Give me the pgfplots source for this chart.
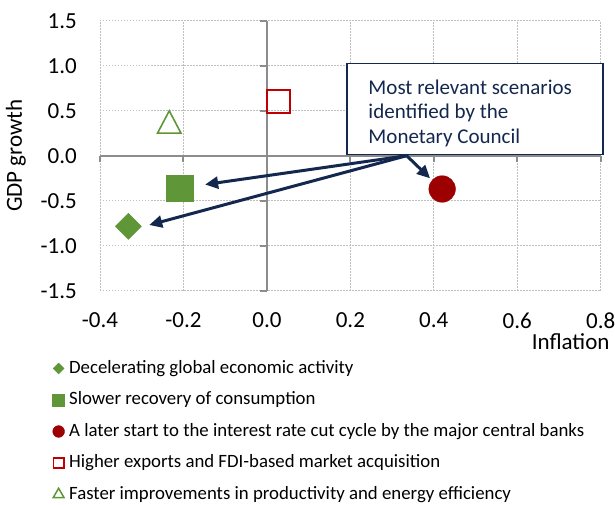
\documentclass[border=0pt]{standalone}
\usepackage{fontspec}
\setmainfont{Carlito}
\usepackage{pgfplots}
\pgfplotsset{compat=1.18}
\usetikzlibrary{arrows.meta}

\definecolor{mgreen}{HTML}{5F9637}
\definecolor{mdred}{HTML}{9C0000}
\definecolor{mred}{HTML}{C00000}
\definecolor{navy}{HTML}{14284F}
\definecolor{axgray}{HTML}{8C8C8C}
\definecolor{gridgray}{HTML}{BFBFBF}

\begin{document}
\begin{tikzpicture}
\useasboundingbox (-100pt,-213.3pt) rectangle (515pt,290.7pt);
\begin{axis}[
  at={(0,0)}, anchor=south west,
  scale only axis, width=500.7pt, height=270pt,
  xmin=-0.4, xmax=0.8, ymin=-1.5, ymax=1.5,
  xtick={-0.4,-0.2,0,0.2,0.4,0.6,0.8},
  ytick={-1.5,-1,-0.5,0,0.5,1,1.5},
  axis line style={draw=none}, tick style={draw=none}, major tick length=0pt,
  grid=major,
  major grid style={gridgray, dash pattern=on 1.5pt off 1.5pt, line width=0.8pt},
  /pgf/number format/fixed, /pgf/number format/fixed zerofill,
  /pgf/number format/precision=1, /pgf/number format/assume math mode=true,
  ticklabel style={font=\fontsize{23}{27}\selectfont},
  yticklabel style={anchor=east, inner sep=0pt, xshift=-23pt},
  xticklabel style={anchor=north, inner sep=0pt, yshift=-22pt},
  xlabel={Inflation},
  xlabel style={at={(axis description cs:1.018,-0.158)}, anchor=north east, inner sep=0pt,
    font=\fontsize{23}{27}\selectfont},
  ylabel={GDP growth},
  ylabel style={at={(axis description cs:-0.168,0.5)}, anchor=center, inner sep=0pt,
    font=\fontsize{23}{27}\selectfont},
  clip=false,
  legend cell align=left,
  legend image code/.code={\draw[#1] plot coordinates {(0pt,0pt)};},
  legend style={at={(axis description cs:-0.095,-0.254)}, anchor=north west,
    draw=none, fill=none, inner sep=0pt, row sep=13.5pt, column sep=4.5pt,
    font=\fontsize{18.8}{22}\selectfont,
    nodes={inner sep=0pt, text height=14pt, text depth=4pt}},
]
% zero axes with ticks
\draw[axgray, line width=2.2pt] (axis cs:-0.4,0) -- (axis cs:0.8,0);
\draw[axgray, line width=2.2pt] (axis cs:0,-1.5) -- (axis cs:0,1.5);
\pgfplotsinvokeforeach{-1.5,-1,-0.5,0,0.5,1,1.5}{
  \draw[axgray, line width=2pt] (axis cs:0,#1) -- ++(-6.5pt,0pt);
}
\pgfplotsinvokeforeach{-0.4,-0.2,0,0.2,0.4,0.6,0.8}{
  \draw[axgray, line width=2pt] (axis cs:#1,0) -- ++(0pt,-6.5pt);
}

\addplot[only marks, mark=square*, mark size=9.2pt, mgreen, mark options={rotate=45}, forget plot]
  coordinates {(-0.332,-0.785)};
\addplot[only marks, mark=square*, mark size=13.3pt, mgreen, forget plot]
  coordinates {(-0.209,-0.362)};
\addplot[only marks, mark=*, mark size=13.3pt, mdred, forget plot]
  coordinates {(0.42,-0.37)};
\addplot[only marks, mark=square, mark size=11.5pt, mred, line width=1.6pt, forget plot]
  coordinates {(0.028,0.605)};
\addplot[only marks, mark=triangle, mark size=13.5pt, mgreen, line width=1.6pt,
  mark options={yscale=1.1}, forget plot]
  coordinates {(-0.234,0.334)};

% legend entries
\addlegendimage{only marks, mark=square*, mark size=3.8pt, mgreen, mark options={rotate=45}}
\addlegendentry{Decelerating global economic activity}
\addlegendimage{only marks, mark=square*, mark size=6pt, mgreen}
\addlegendentry{Slower recovery of consumption}
\addlegendimage{only marks, mark=*, mark size=5.9pt, mdred}
\addlegendentry{A later start to the interest rate cut cycle by the major central banks}
\addlegendimage{only marks, mark=square, mark size=5.2pt, mred, line width=1.5pt}
\addlegendentry{Higher exports and FDI-based market acquisition}
\addlegendimage{only marks, mark=triangle, mark size=6.2pt, mgreen, line width=1.5pt}
\addlegendentry{Faster improvements in productivity and energy efficiency}

% annotation
\draw[navy, line width=1.5pt, fill=white] (axis cs:0.1916,0.0156) rectangle (axis cs:0.8055,1.0267);
\node[anchor=base west, inner sep=0pt, text=navy, font=\fontsize{21}{24}\selectfont]
  at (axis cs:0.243,0.682) {Most relevant scenarios};
\node[anchor=base west, inner sep=0pt, text=navy, font=\fontsize{21}{24}\selectfont]
  at (axis cs:0.243,0.41) {identified by the};
\node[anchor=base west, inner sep=0pt, text=navy, font=\fontsize{21}{24}\selectfont]
  at (axis cs:0.243,0.138) {Monetary Council};
\draw[navy, line width=3pt, -{Triangle[length=13pt,width=12pt]}]
  (axis cs:0.335,0.0) -- (axis cs:-0.148,-0.32);
\draw[navy, line width=3pt, -{Triangle[length=13pt,width=12pt]}]
  (axis cs:0.335,0.0) -- (axis cs:-0.282,-0.77);
\draw[navy, line width=3pt, -{Triangle[length=13pt,width=12pt]}]
  (axis cs:0.335,0.0) -- (axis cs:0.391,-0.251);
\end{axis}
\end{tikzpicture}
\end{document}
